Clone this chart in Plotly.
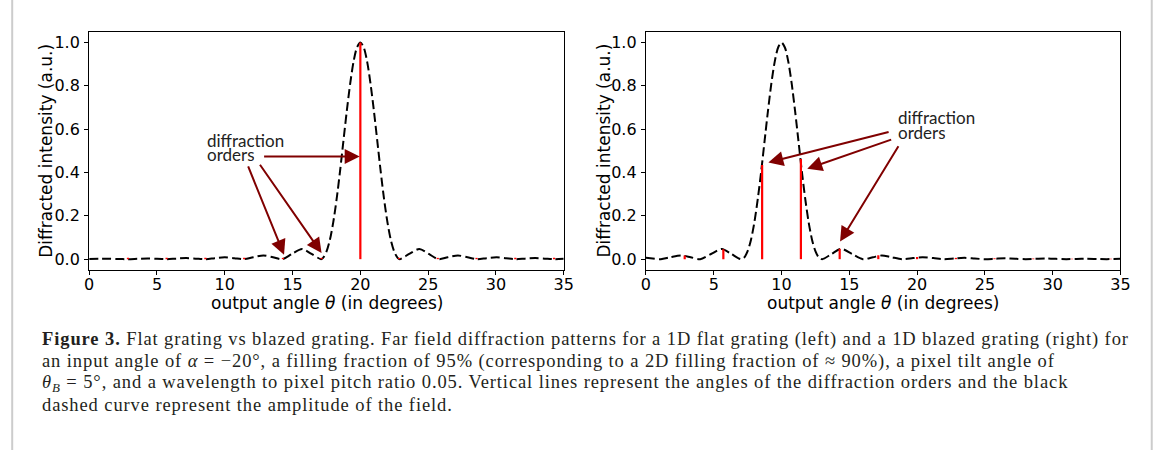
import plotly.graph_objects as go

W, H = 1165, 450

# ---------------- data ----------------
theta_left = [0.0, 0.7, 1.4, 2.1, 2.85, 3.55, 4.3, 5.0, 5.7, 6.4, 7.15, 7.85, 8.55, 9.25,
              10.0, 10.7, 11.4, 12.1, 12.85, 13.55, 14.25, 14.95, 15.7, 16.4, 17.1, 17.25,
              17.5, 17.75, 18.0, 18.25, 18.5, 18.75, 19.0, 19.25, 19.5, 19.75, 20.0, 20.25,
              20.5, 20.75, 21.0, 21.25, 21.5, 21.75, 22.0, 22.25, 22.5, 22.75, 22.9, 23.6,
              24.35, 25.05, 25.75, 26.45, 27.2, 27.9, 28.6, 29.3, 30.05, 30.75, 31.45, 32.15,
              32.9, 33.6, 34.3, 35.0]
field_left = [0.001, 0.0015, 0.002, 0.001, 0.0, 0.0015, 0.003, 0.0015, 0.0, 0.0025, 0.005, 0.0025,
              0.0, 0.0045, 0.009, 0.0045, 0.0, 0.009, 0.017, 0.009, 0.0, 0.024, 0.047, 0.024,
              0.0, 0.006, 0.035, 0.088, 0.170, 0.277, 0.405, 0.545, 0.684, 0.810, 0.912, 0.977,
              1.0, 0.977, 0.912, 0.810, 0.684, 0.545, 0.405, 0.277, 0.170, 0.088, 0.035, 0.006,
              0.0, 0.024, 0.047, 0.024, 0.0, 0.009, 0.017, 0.009, 0.0, 0.0045, 0.009, 0.0045,
              0.0, 0.0025, 0.005, 0.0025, 0.0, 0.002]

theta_right = [0.0, 0.5, 1.1, 1.8, 2.6, 3.3, 4.0, 4.8, 5.6, 6.3, 7.0, 7.25, 7.5, 7.75, 8.0,
               8.25, 8.5, 8.75, 9.0, 9.25, 9.5, 9.75, 10.0, 10.25, 10.5, 10.75, 11.0, 11.25,
               11.5, 11.75, 12.0, 12.25, 12.5, 12.75, 13.0, 13.7, 14.4, 15.2, 16.0, 16.75,
               17.4, 18.1, 18.9, 19.7, 20.4, 21.2, 22.0, 22.75, 23.5, 24.25, 25.0, 25.75,
               26.5, 27.25, 28.0, 28.75, 29.5, 30.25, 31.0, 31.75, 32.5, 33.25, 34.0, 34.5, 35.0]
field_right = [0.006, 0.003, 0.0, 0.009, 0.017, 0.009, 0.0, 0.024, 0.047, 0.024, 0.0, 0.008,
               0.037, 0.090, 0.171, 0.278, 0.405, 0.545, 0.684, 0.811, 0.912, 0.977, 1.0,
               0.977, 0.912, 0.811, 0.684, 0.545, 0.405, 0.278, 0.171, 0.090, 0.037, 0.008,
               0.0, 0.024, 0.048, 0.024, 0.0, 0.009, 0.017, 0.009, 0.0, 0.005, 0.009, 0.005,
               0.0, 0.003, 0.006, 0.003, 0.0, 0.002, 0.004, 0.002, 0.0, 0.0015, 0.003, 0.0015,
               0.0, 0.001, 0.002, 0.001, 0.0, 0.001, 0.0015]

order_angles = [2.86, 5.71, 8.57, 11.43, 14.29, 17.14, 20.0, 22.86, 25.71, 28.57, 31.43, 34.29]
order_left = [0.006, 0.006, 0.006, 0.006, 0.006, 0.006, 1.0, 0.006, 0.006, 0.006, 0.006, 0.006]
order_right = [0.017, 0.046, 0.435, 0.462, 0.048, 0.018, 0.010, 0.006, 0.004, 0.003, 0.002, 0.002]

x_ticks = [0, 5, 10, 15, 20, 25, 30, 35]
y_ticks = [0.0, 0.2, 0.4, 0.6, 0.8, 1.0]
y_ticktext = ["0.0", "0.2", "0.4", "0.6", "0.8", "1.0"]

# arrows: (head_x, head_y, tail_x, tail_y)
arrows_left = [(19.95, 0.474, 12.79, 0.474),
               (14.37, 0.020, 11.68, 0.435),
               (17.14, 0.028, 12.52, 0.443)]
arrows_right = [(9.03, 0.446, 18.01, 0.589),
                (11.90, 0.417, 18.20, 0.554),
                (14.32, 0.081, 18.69, 0.528)]

caption_lines = [
    "<b>Figure 3.</b> Flat grating vs blazed grating. Far field diffraction patterns for a 1D flat grating (left) and a 1D blazed grating (right) for",
    "an input angle of <i>α</i> = −20°, a filling fraction of 95% (corresponding to a 2D filling fraction of ≈ 90%), a pixel tilt angle of",
    "<i>θ<sub>B</sub></i> = 5°, and a wavelength to pixel pitch ratio 0.05. Vertical lines represent the angles of the diffraction orders and the black",
    "dashed curve represent the amplitude of the field.",
]

# ---------------- helpers ----------------
def px(x):
    return x / W


def py(y):
    return 1 - y / H


def stems(xs, hs):
    sx, sy = [], []
    for x, h in zip(xs, hs):
        sx += [x, x, None]
        sy += [0, h, None]
    return sx, sy


fig = go.Figure()

for xa, ya, th, fv, oh in [("x", "y", theta_left, field_left, order_left),
                           ("x2", "y2", theta_right, field_right, order_right)]:
    fig.add_trace(go.Scatter(x=th, y=fv, mode="lines", xaxis=xa, yaxis=ya,
                             line=dict(color="black", width=2, dash="9px,4px",
                                       shape="spline", smoothing=0.8),
                             showlegend=False, hoverinfo="skip"))
    sx, sy = stems(order_angles, oh)
    fig.add_trace(go.Scatter(x=sx, y=sy, mode="lines", xaxis=xa, yaxis=ya,
                             line=dict(color="#ff0000", width=2.2),
                             showlegend=False, hoverinfo="skip"))

tick_font = dict(family="DejaVu Sans", size=16, color="black")
axis_common = dict(showline=True, mirror=True, linecolor="black", linewidth=1.2,
                   ticks="outside", ticklen=4, tickwidth=1.2, tickcolor="black",
                   showgrid=False, zeroline=False, tickfont=tick_font)

yd = [py(270), py(31.7)]
fig.update_layout(
    width=W, height=H, margin=dict(l=0, r=0, t=0, b=0),
    paper_bgcolor="white", plot_bgcolor="white",
    font=dict(family="DejaVu Sans", size=16, color="black"),
    xaxis=dict(axis_common, domain=[px(85.3), px(566)], range=[0, 35], tickvals=x_ticks,
               anchor="y", ticklabelstandoff=-4),
    yaxis=dict(axis_common, domain=yd, range=[-0.05, 1.05], tickvals=y_ticks,
               ticktext=y_ticktext, anchor="x", ticklabelstandoff=1),
    xaxis2=dict(axis_common, domain=[px(649.3), px(1130)], range=[0, 35], tickvals=x_ticks,
                anchor="y2", ticklabelstandoff=-4),
    yaxis2=dict(axis_common, domain=yd, range=[-0.05, 1.05], tickvals=y_ticks,
                ticktext=y_ticktext, anchor="x2", ticklabelstandoff=1),
)

ann = []
# axis titles
title_font = dict(family="DejaVu Sans", size=17, color="black")
for cx, ax_x in [(325.7, 41.5), (889.7, 606.5)]:
    ann.append(dict(x=px(cx), y=py(302.7), xref="paper", yref="paper", showarrow=False,
                    text="output angle <i>θ</i> (in degrees)", xanchor="center",
                    yanchor="middle", font=title_font))
    ann.append(dict(x=px(ax_x), y=py(150.9), xref="paper", yref="paper", showarrow=False,
                    text="Diffracted intensity (a.u.)", textangle=-90, xanchor="center",
                    yanchor="middle", font=title_font))

# arrows
for (xr, yr, arrows) in [("x", "y", arrows_left), ("x2", "y2", arrows_right)]:
    for hx, hy, tx, ty in arrows:
        ann.append(dict(x=hx, y=hy, ax=tx, ay=ty, xref=xr, yref=yr, axref=xr, ayref=yr,
                        text="", showarrow=True, arrowhead=2, arrowsize=1.5,
                        arrowwidth=2, arrowcolor="#800000", standoff=0, startstandoff=0))

# "diffraction orders" labels
lab_font = dict(family="Lato", size=17, color="#222222")
for lx, b1, b2 in [(202.3, 145.7, 160.0), (902.7, 122.7, 137.5)]:
    for word, base in [("diffraction", b1), ("orders", b2)]:
        ann.append(dict(x=px(lx), y=py(base - 5.8), xref="paper", yref="paper",
                        showarrow=False, text=word, xanchor="left", yanchor="middle",
                        height=14, font=lab_font))

# caption
cap_font = dict(family="Liberation Serif", size=18.5, color="#231f20")
for line, base in zip(caption_lines, [345.7, 367.7, 389.3, 410.5]):
    ann.append(dict(x=px(35.7), y=py(base - 6), xref="paper", yref="paper",
                    showarrow=False,
                    text='<span style="letter-spacing:0.9px">' + line + "</span>",
                    xanchor="left", yanchor="middle", font=cap_font))

fig.update_layout(annotations=ann)

# page border lines
for bx in [7.3, 1161.7]:
    fig.add_shape(type="line", xref="paper", yref="paper", x0=px(bx), x1=px(bx), y0=0, y1=1,
                  line=dict(color="#cccccc", width=2))

fig.write_html("out.html", config={"displayModeBar": False},
               post_script="document.body.style.margin='0';document.body.style.overflow='hidden';")
